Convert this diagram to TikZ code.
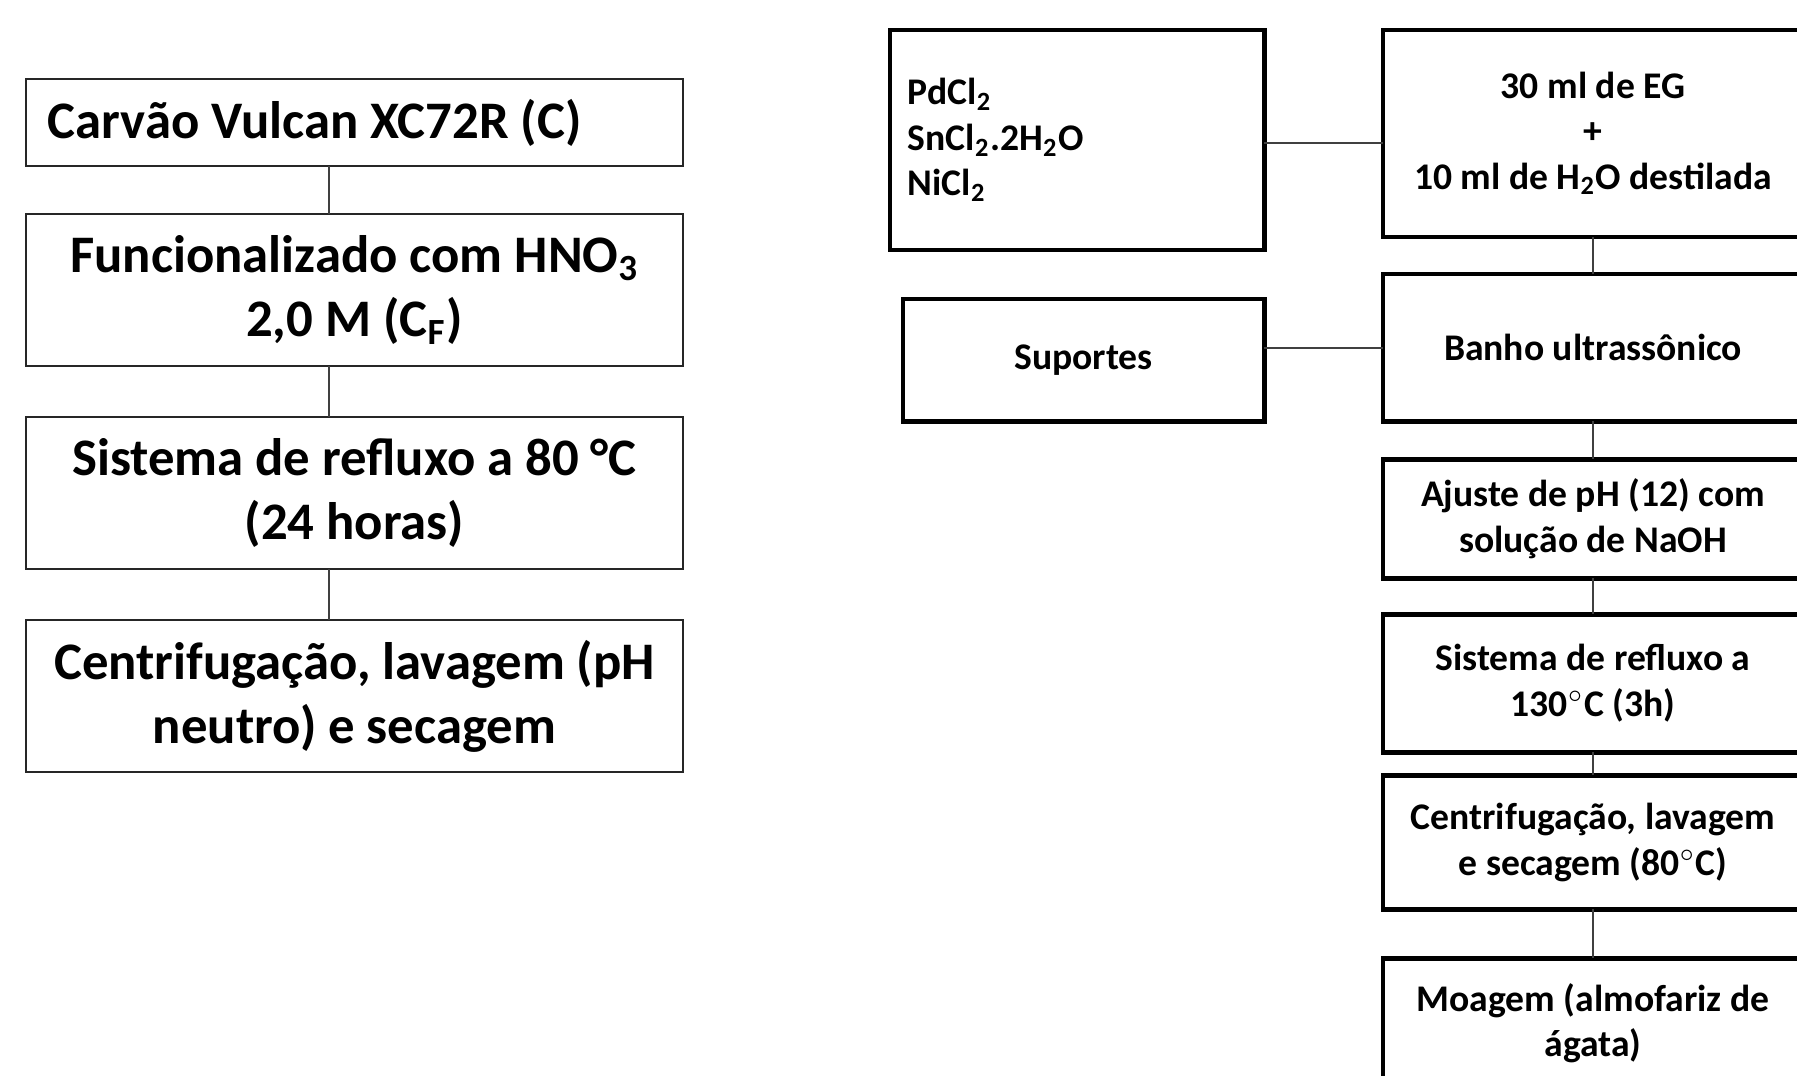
\documentclass[tikz,border=0pt]{standalone}
\usepackage{fontspec}
\setmainfont{Carlito}
\usetikzlibrary{positioning}
\tikzset{
	etapa/.style={
		rectangle,
		draw=black!85,
		line width=0.6pt,
		align=center,
		inner sep=0pt,
		outer sep=0pt,
		minimum width=6.57cm,
		font=\fontsize{15}{18.1}\selectfont\bfseries
	},
	processo/.style={
		rectangle,
		draw=black,
		line width=1.35pt,
		align=center,
		inner sep=0pt,
		outer sep=0pt,
		minimum width=4.2cm,
		font=\fontsize{10.7}{12.9}\selectfont\bfseries
	},
	ligacao/.style={draw=black!75, line width=0.6pt}
}

\begin{document}
\begin{tikzpicture}[x=0.01cm, y=-0.01cm]
	\useasboundingbox (0,0) rectangle (1797,1076);
	\clip (0,0) rectangle (1797,1076);

	% tratamento do suporte
	\draw node[etapa, minimum height=0.87cm, text width=6.13cm, align=flush left](Carvao) at (354.5,122.5){Carvão Vulcan XC72R (C)};
	\draw node[etapa, minimum height=1.52cm, below=0.48cm of Carvao](Funcional){Funcionalizado com HNO\textsubscript{3}\\ 2,0 M (C\textsubscript{F})};
	\draw node[etapa, minimum height=1.52cm, below=0.51cm of Funcional](RefluxoC){Sistema de refluxo a 80 °C\\ (24 horas)};
	\draw node[etapa, minimum height=1.52cm, below=0.51cm of RefluxoC](LavagemC){Centrifugação, lavagem (pH\\ neutro) e secagem};

	\coordinate (eixo) at (329,0);
	\draw[ligacao] (Carvao.south -| eixo) -- (Funcional.north -| eixo);
	\draw[ligacao] (Funcional.south -| eixo) -- (RefluxoC.north -| eixo);
	\draw[ligacao] (RefluxoC.south -| eixo) -- (LavagemC.north -| eixo);

	% sintese dos catalisadores
	\draw node[processo, minimum height=2.07cm](Solvente) at (1593,133.5){30 ml de EG\\ +\\ 10 ml de H\textsubscript{2}O destilada};
	\draw node[processo, minimum height=1.47cm, below=0.37cm of Solvente](Banho){Banho ultrassônico};
	\draw node[processo, minimum height=1.19cm, below=0.38cm of Banho](Ajuste){Ajuste de pH (12) com\\ solução de NaOH};
	\draw node[processo, minimum height=1.38cm, below=0.36cm of Ajuste](Refluxo){Sistema de refluxo a\\ 130$^\circ$C (3h)};
	\draw node[processo, minimum height=1.34cm, below=0.23cm of Refluxo](Lavagem){Centrifugação, lavagem\\ e secagem (80$^\circ$C)};
	\draw node[processo, minimum height=1.30cm, below=0.49cm of Lavagem](Moagem){Moagem (almofariz de\\ ágata)};

	\draw node[processo, minimum width=3.74cm, minimum height=2.2cm, text width=3.38cm, align=flush left](Sais) at (1077,140){PdCl\textsubscript{2}\\ SnCl\textsubscript{2}.2H\textsubscript{2}O\\ NiCl\textsubscript{2}};
	\draw node[processo, minimum width=3.61cm, minimum height=1.22cm, below left=0.49cm and 0cm of Sais.south east](Suportes){Suportes};

	\draw[ligacao] ([yshift=-0.03cm]Sais.east) -- ([yshift=-0.03cm]Sais.east -| Solvente.west);
	\draw[ligacao] (Banho.west -| Suportes.east) -- (Banho.west);
	\draw[ligacao] (Solvente.south) -- (Banho.north);
	\draw[ligacao] (Banho.south) -- (Ajuste.north);
	\draw[ligacao] (Ajuste.south) -- (Refluxo.north);
	\draw[ligacao] (Refluxo.south) -- (Lavagem.north);
	\draw[ligacao] (Lavagem.south) -- (Moagem.north);
\end{tikzpicture}
\end{document}
